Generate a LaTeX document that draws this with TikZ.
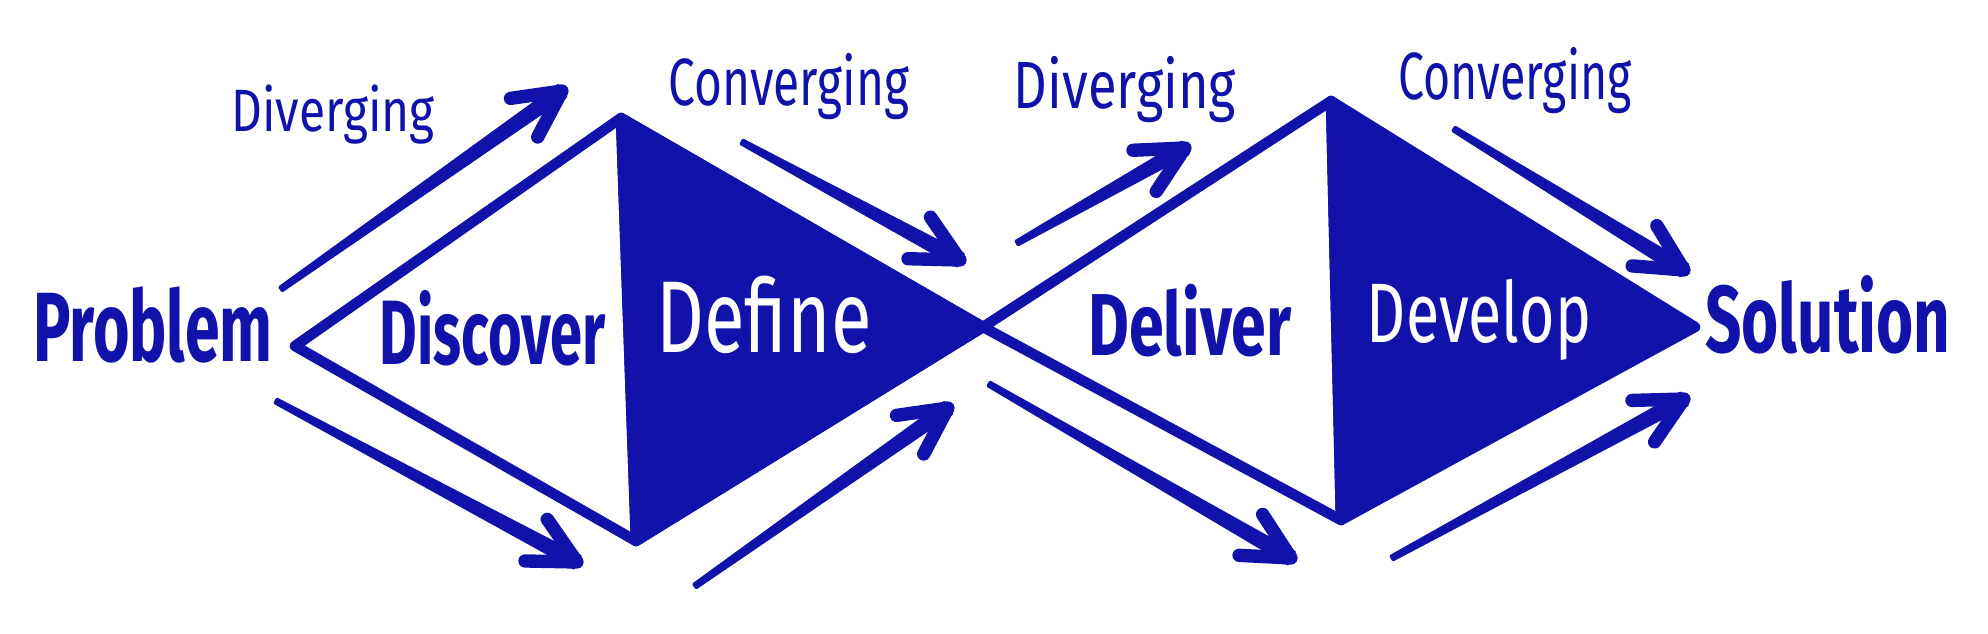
\documentclass[tikz,border=0pt]{standalone}
\usepackage{fontspec}
\usepackage{graphicx}
\setmainfont{Fira Sans}
\usetikzlibrary{arrows.meta,calc}
\definecolor{ink}{RGB}{16,18,170}
\newcommand\fitto[2]{\resizebox{#1}{\height}{#2}}
% tapered hand-drawn arrow between two named coordinates
\newcommand\flowarrow[2]{%
  \fill[shaft] ($(#1)!0.022cm!90:(#2)$) -- ($(#2)!0.068cm!-90:(#1)$)
     -- ($(#2)!0.068cm!90:(#1)$) -- ($(#1)!0.022cm!-90:(#2)$) -- cycle;
  \draw[barb] ($(#2)!0.52cm!27:(#1)$) -- (#2) -- ($(#2)!0.52cm!-27:(#1)$);}
\begin{document}
\begin{tikzpicture}[x=0.01cm,y=-0.01cm,
  outline/.style={draw=ink,line width=3pt,line join=round,line cap=round},
  shade/.style={fill=ink,draw=ink,line width=3pt,line join=round},
  shaft/.style={fill=ink,draw=ink,line width=0.8pt,line join=round},
  barb/.style={draw=ink,line width=3.8pt,line cap=round,line join=round},
  lab/.style={text=ink,inner sep=0pt,anchor=base},
  wlab/.style={text=white,inner sep=0pt,anchor=base}]
\useasboundingbox (0,0) rectangle (1988,633);
% diamond vertices
\coordinate (L1) at (295,346);
\coordinate (T1) at (621,118);
\coordinate (B1) at (636,541);
\coordinate (X)  at (983,327);
\coordinate (T2) at (1331,101);
\coordinate (B2) at (1341,520);
\coordinate (R2) at (1695,327);
% filled halves
\filldraw[shade] (T1) -- (X) -- (B1) -- cycle;
\filldraw[shade] (T2) -- (R2) -- (B2) -- cycle;
% outlines
\draw[outline] (T1) -- (L1) -- (B1);
\draw[outline] (T1) -- (B1);
\draw[outline] (T1) -- (X) -- (B2);
\draw[outline] (B1) -- (X) -- (T2);
\draw[outline] (T2) -- (B2);
% arrows
\coordinate (a1s) at (281,289); \coordinate (a1e) at (562,91);
\coordinate (a2s) at (276,401); \coordinate (a2e) at (577,562);
\coordinate (a3s) at (742,142); \coordinate (a3e) at (960,260);
\coordinate (a4s) at (695,586); \coordinate (a4e) at (948,408);
\coordinate (a5s) at (1017,243); \coordinate (a5e) at (1185,148);
\coordinate (a6s) at (989,384); \coordinate (a6e) at (1291,558);
\coordinate (a7s) at (1454,129); \coordinate (a7e) at (1684,270);
\coordinate (a8s) at (1392,558); \coordinate (a8e) at (1684,399);
\flowarrow{a1s}{a1e}
\flowarrow{a2s}{a2e}
\flowarrow{a3s}{a3e}
\flowarrow{a4s}{a4e}
\flowarrow{a5s}{a5e}
\flowarrow{a6s}{a6e}
\flowarrow{a7s}{a7e}
\flowarrow{a8s}{a8e}
% labels
\node[lab] (div1) at (333,131) {\fitto{2.03cm}{\fontsize{17}{19}\selectfont Diverging}};
\node[lab] (con1) at (789,105) {\fitto{2.40cm}{\fontsize{19}{21}\selectfont Converging}};
\node[lab] (div2) at (1125,108) {\fitto{2.22cm}{\fontsize{19}{21}\selectfont Diverging}};
\node[lab] (con2) at (1515,99) {\fitto{2.33cm}{\fontsize{19}{21}\selectfont Converging}};
\node[lab] (problem) at (153,361) {\fitto{2.39cm}{\fontsize{28}{30}\selectfont\bfseries Problem}};
\node[lab] (discover) at (493,364) {\fitto{2.26cm}{\fontsize{26}{28}\selectfont\bfseries Discover}};
\node[wlab] (define) at (764,352) {\fitto{2.15cm}{\fontsize{29}{31}\selectfont Define}};
\node[lab] (deliver) at (1190,355) {\fitto{2.03cm}{\fontsize{25}{27}\selectfont\bfseries Deliver}};
\node[wlab] (develop) at (1479,342) {\fitto{2.24cm}{\fontsize{24}{26}\selectfont Develop}};
\node[lab] (solution) at (1828,352) {\fitto{2.45cm}{\fontsize{27}{29}\selectfont\bfseries Solution}};
\end{tikzpicture}
\end{document}
